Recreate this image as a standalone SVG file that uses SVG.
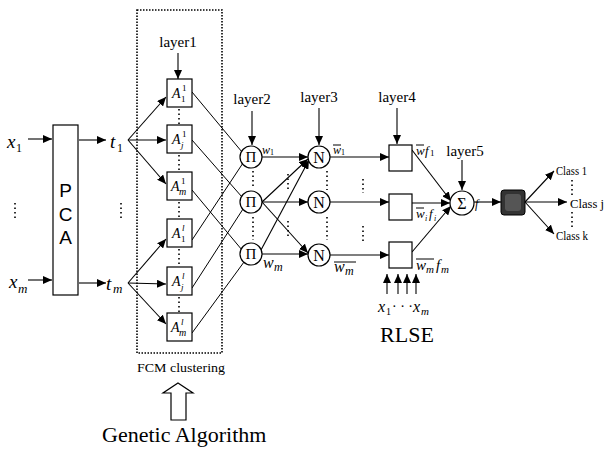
<svg xmlns="http://www.w3.org/2000/svg" width="606" height="450" viewBox="0 0 606 450">
<defs>
<marker id="ah" markerUnits="userSpaceOnUse" markerWidth="9" markerHeight="8" refX="9" refY="4" orient="auto"><path d="M0,0 L9,4 L0,8 Z" fill="#000"/></marker>
<style>
.ln{stroke:#000;stroke-width:1;fill:none}
.ar{stroke:#000;stroke-width:1.1;fill:none;marker-end:url(#ah)}
.bx{fill:#fff;stroke:#000;stroke-width:1.2}
.dot{stroke:#000;stroke-width:1.6;stroke-dasharray:1.5 3;fill:none}
.s{font-family:"Liberation Serif",serif;fill:#000}
.i{font-family:"Liberation Serif",serif;font-style:italic;fill:#000}
.sans{font-family:"Liberation Sans",sans-serif;fill:#000}
.ov{stroke:#000;stroke-width:1}
</style>
</defs>
<rect width="606" height="450" fill="#fff"/>

<!-- FCM dotted box -->
<rect x="137" y="10" width="85" height="343" fill="none" stroke="#000" stroke-width="1.6" stroke-dasharray="1.5 1.5"/>

<g id="connectors">
<!-- inputs to PCA -->
<line class="ar" x1="28" y1="139" x2="52" y2="139"/>
<line class="ar" x1="28" y1="280" x2="52" y2="280"/>
<line class="ar" x1="79" y1="140" x2="106" y2="140"/>
<line class="ar" x1="79" y1="283" x2="106" y2="283"/>
<!-- fans -->
<line class="ar" x1="128" y1="140" x2="166" y2="97"/>
<line class="ar" x1="128" y1="140" x2="166" y2="140"/>
<line class="ar" x1="128" y1="140" x2="166" y2="184"/>
<line class="ar" x1="128" y1="283" x2="166" y2="239"/>
<line class="ar" x1="128" y1="283" x2="166" y2="284"/>
<line class="ar" x1="128" y1="283" x2="166" y2="324"/>
<!-- layer arrows -->
<line class="ar" x1="178" y1="53" x2="178" y2="79"/>
<line class="ar" x1="252" y1="111" x2="252" y2="145"/>
<line class="ar" x1="319" y1="108" x2="319" y2="145"/>
<line class="ar" x1="397" y1="108" x2="397" y2="144"/>
<line class="ar" x1="462" y1="160" x2="462" y2="190"/>
<!-- A to Pi -->
<line class="ln" x1="192" y1="92" x2="242" y2="152"/>
<line class="ln" x1="192" y1="240" x2="243" y2="163"/>
<line class="ln" x1="192" y1="140" x2="242" y2="197"/>
<line class="ln" x1="192" y1="288" x2="243" y2="209"/>
<line class="ln" x1="192" y1="190" x2="242" y2="250"/>
<line class="ln" x1="192" y1="333" x2="244" y2="262"/>
<!-- Pi to N -->
<line class="ar" x1="262" y1="157" x2="308" y2="157"/>
<line class="ar" x1="262" y1="202" x2="308" y2="159"/>
<line class="ar" x1="262" y1="202" x2="308" y2="202"/>
<line class="ar" x1="262" y1="202" x2="308" y2="253"/>
<line class="ar" x1="262" y1="254" x2="308" y2="254"/>
<line class="ar" x1="261" y1="250" x2="309" y2="160"/>
<!-- N to layer4 -->
<line class="ar" x1="330" y1="157" x2="389" y2="157"/>
<line class="ar" x1="330" y1="202" x2="389" y2="202"/>
<line class="ar" x1="330" y1="255" x2="389" y2="255"/>
<!-- layer4 to sigma -->
<line class="ar" x1="412" y1="150" x2="451" y2="201"/>
<line class="ar" x1="412" y1="203" x2="450" y2="203"/>
<line class="ar" x1="412" y1="252" x2="451" y2="206"/>
<!-- sigma to output -->
<line class="ar" x1="474" y1="202" x2="501" y2="202"/>
<line class="ar" x1="525" y1="202" x2="554" y2="171"/>
<line class="ar" x1="525" y1="202" x2="567" y2="202"/>
<line class="ar" x1="525" y1="202" x2="554" y2="234"/>
<!-- RLSE inputs -->
<line class="ar" x1="387" y1="294" x2="387" y2="274"/>
<line class="ar" x1="398" y1="294" x2="398" y2="274"/>
<line class="ar" x1="407" y1="294" x2="407" y2="274"/>
<line class="ar" x1="416" y1="294" x2="416" y2="274"/>
<!-- GA hollow arrow -->
<path d="M178,383 L193,393 L186,393 L186,420 L171,420 L171,393 L163,393 Z" fill="#fff" stroke="#000" stroke-width="1.2"/>
<!-- dots -->
<line class="dot" x1="15" y1="203" x2="15" y2="220"/>
<line class="dot" x1="121" y1="203" x2="121" y2="220"/>
<line class="dot" x1="179" y1="109" x2="179" y2="125"/>
<line class="dot" x1="179" y1="155" x2="179" y2="172"/>
<line class="dot" x1="179" y1="202" x2="179" y2="219"/>
<line class="dot" x1="179" y1="249" x2="179" y2="267"/>
<line class="dot" x1="179" y1="297" x2="179" y2="313"/>
<line class="dot" x1="253" y1="171" x2="253" y2="189"/>
<line class="dot" x1="253" y1="217" x2="253" y2="240"/>
<line class="dot" x1="288" y1="174" x2="288" y2="190"/>
<line class="dot" x1="288" y1="221" x2="288" y2="238"/>
<line class="dot" x1="327" y1="171" x2="327" y2="190"/>
<line class="dot" x1="327" y1="217" x2="327" y2="240"/>
<line class="dot" x1="363" y1="179" x2="363" y2="193"/>
<line class="dot" x1="363" y1="226" x2="363" y2="241"/>
<line class="dot" x1="572" y1="180" x2="572" y2="195"/>
<line class="dot" x1="572" y1="212" x2="572" y2="228"/>
</g>

<!-- inputs -->
<g id="x1"><text class="i" x="7" y="148" font-size="19">x</text><text class="s" x="16" y="152" font-size="12">1</text></g>
<g id="xm"><text class="i" x="9" y="288" font-size="19">x</text><text class="i" x="18" y="293" font-size="13">m</text></g>

<g id="pca">
<rect class="bx" x="53" y="125" width="25" height="170"/>
<text class="sans" x="65.5" y="197" font-size="19" text-anchor="middle">P</text>
<text class="sans" x="65.5" y="221" font-size="19" text-anchor="middle">C</text>
<text class="sans" x="65.5" y="244" font-size="19" text-anchor="middle">A</text>
</g>

<g id="t1"><text class="i" x="110" y="148" font-size="19">t</text><text class="s" x="117" y="152" font-size="12">1</text></g>
<g id="tm"><text class="i" x="106" y="290" font-size="19">t</text><text class="i" x="113" y="293" font-size="13">m</text></g>

<g id="layer1"><text class="s" x="178" y="47" font-size="15" text-anchor="middle">layer1</text></g>
<g id="layer2"><text class="s" x="252" y="104" font-size="15" text-anchor="middle">layer2</text></g>
<g id="layer3"><text class="s" x="319" y="102" font-size="15" text-anchor="middle">layer3</text></g>
<g id="layer4"><text class="s" x="397" y="102" font-size="15" text-anchor="middle">layer4</text></g>
<g id="layer5"><text class="s" x="465" y="156" font-size="15" text-anchor="middle">layer5</text></g>

<!-- A boxes -->
<g id="A11"><rect class="bx" x="167" y="79" width="25" height="28"/><text class="i" x="172" y="98" font-size="14">A</text><text class="s" x="182" y="91" font-size="9">1</text><text class="s" x="181" y="102" font-size="9">1</text></g>
<g id="A1j"><rect class="bx" x="167" y="125" width="25" height="28"/><text class="i" x="172" y="144" font-size="14">A</text><text class="s" x="182" y="137" font-size="9">1</text><text class="i" x="181" y="148" font-size="9">j</text></g>
<g id="A1m"><rect class="bx" x="167" y="172" width="25" height="28"/><text class="i" x="171" y="191" font-size="14">A</text><text class="s" x="181" y="184" font-size="9">1</text><text class="i" x="179" y="195" font-size="10">m</text></g>
<g id="Al1"><rect class="bx" x="167" y="219" width="25" height="28"/><text class="i" x="172" y="238" font-size="14">A</text><text class="i" x="182" y="231" font-size="9">l</text><text class="s" x="181" y="242" font-size="9">1</text></g>
<g id="Alj"><rect class="bx" x="167" y="267" width="25" height="28"/><text class="i" x="172" y="286" font-size="14">A</text><text class="i" x="182" y="279" font-size="9">l</text><text class="i" x="181" y="290" font-size="9">j</text></g>
<g id="Alm"><rect class="bx" x="167" y="313" width="25" height="28"/><text class="i" x="171" y="332" font-size="14">A</text><text class="i" x="181" y="325" font-size="9">l</text><text class="i" x="179" y="336" font-size="10">m</text></g>

<!-- Pi nodes -->
<g id="pi1"><circle class="bx" cx="251" cy="157" r="11"/><text class="s" x="251" y="162" font-size="15" text-anchor="middle">Π</text></g>
<g id="pi2"><circle class="bx" cx="251" cy="202" r="11"/><text class="s" x="251" y="207" font-size="15" text-anchor="middle">Π</text></g>
<g id="pi3"><circle class="bx" cx="251" cy="254" r="11"/><text class="s" x="251" y="259" font-size="15" text-anchor="middle">Π</text></g>
<g id="w1lab"><text class="i" x="262" y="154" font-size="12">w</text><text class="s" x="270" y="155" font-size="8">1</text></g>
<g id="wmlab"><text class="i" x="263" y="268" font-size="16">w</text><text class="i" x="274" y="271" font-size="12">m</text></g>

<!-- N nodes -->
<g id="n1"><circle class="bx" cx="319" cy="157" r="11"/><text class="s" x="319" y="163" font-size="16" text-anchor="middle">N</text></g>
<g id="n2"><circle class="bx" cx="319" cy="202" r="11"/><text class="s" x="319" y="208" font-size="16" text-anchor="middle">N</text></g>
<g id="n3"><circle class="bx" cx="319" cy="255" r="11"/><text class="s" x="319" y="261" font-size="16" text-anchor="middle">N</text></g>
<g id="nw1"><text class="i" x="333" y="154" font-size="12">w</text><text class="s" x="341" y="155" font-size="8">1</text><line class="ov" x1="333" y1="145" x2="341" y2="145"/></g>
<g id="nwm"><text class="i" x="334" y="272" font-size="16">w</text><text class="i" x="345" y="275" font-size="12">m</text><line class="ov" x1="334" y1="262" x2="356" y2="262"/></g>

<!-- layer4 boxes -->
<g id="L4a"><rect class="bx" x="389" y="145" width="23" height="26"/></g>
<g id="L4b"><rect class="bx" x="389" y="194" width="23" height="26"/></g>
<g id="L4c"><rect class="bx" x="389" y="242" width="23" height="26"/></g>
<g id="f1lab"><text class="i" x="416" y="155" font-size="13">w</text><text class="i" x="425" y="155" font-size="13">f</text><text class="s" x="430" y="156" font-size="9">1</text><line class="ov" x1="416" y1="145" x2="424" y2="145"/></g>
<g id="filab"><text class="i" x="416" y="218" font-size="13">w</text><text class="i" x="425" y="221" font-size="8">i</text><text class="i" x="429" y="218" font-size="13">f</text><text class="i" x="434" y="221" font-size="8">i</text><line class="ov" x1="416" y1="208" x2="424" y2="208"/></g>
<g id="fmlab"><text class="i" x="416" y="270" font-size="15">w</text><text class="i" x="426" y="273" font-size="11">m</text><text class="i" x="436" y="270" font-size="15">f</text><text class="i" x="441" y="273" font-size="11">m</text><line class="ov" x1="416" y1="259" x2="434" y2="259"/></g>

<!-- sigma -->
<g id="sigma"><circle class="bx" cx="462" cy="203" r="12"/><text class="s" x="462" y="209" font-size="16" text-anchor="middle">Σ</text><text class="i" x="475" y="208" font-size="12">f</text></g>

<!-- output square -->
<g id="out"><rect x="501" y="190" width="24" height="25" rx="3" fill="#333" stroke="#000"/><rect x="505" y="194" width="16" height="17" rx="3" fill="#555"/></g>

<g id="class1"><text class="s" x="556" y="175" font-size="13" textLength="31" lengthAdjust="spacingAndGlyphs">Class 1</text></g>
<g id="classj"><text class="s" x="570" y="208" font-size="13" textLength="34" lengthAdjust="spacingAndGlyphs">Class j</text></g>
<g id="classk"><text class="s" x="556" y="240" font-size="13" textLength="32" lengthAdjust="spacingAndGlyphs">Class k</text></g>

<g id="rlse">
<text class="i" x="378" y="312" font-size="16">x</text><text class="s" x="386" y="315" font-size="10">1</text>
<text class="s" x="392" y="311" font-size="14">· · ·</text>
<text class="i" x="413" y="312" font-size="16">x</text><text class="i" x="421" y="315" font-size="11">m</text>
<text class="s" x="407" y="342" font-size="22" text-anchor="middle">RLSE</text>
</g>

<g id="fcm"><text class="s" x="137" y="372" font-size="13" textLength="88" lengthAdjust="spacingAndGlyphs">FCM clustering</text></g>
<g id="ga"><text class="s" x="102" y="442" font-size="22">Genetic Algorithm</text></g>
</svg>
